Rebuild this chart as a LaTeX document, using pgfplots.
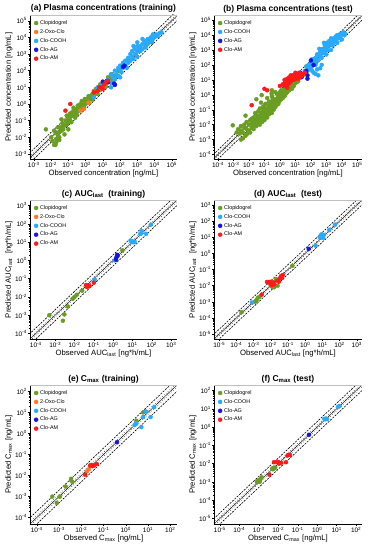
\documentclass[border=0pt]{standalone}
\usepackage{fontspec}
\setmainfont{Liberation Sans}
\usepackage{pgfplots}
\pgfplotsset{compat=1.18}
\definecolor{cgreen}{RGB}{106,158,34}
\definecolor{corange}{RGB}{255,122,40}
\definecolor{clblue}{RGB}{40,170,255}
\definecolor{cblue}{RGB}{20,20,230}
\definecolor{cred}{RGB}{255,25,25}
\pgfplotsset{log number format basis/.code 2 args={#1\textsuperscript{\pgfmathprintnumber[assume math mode=true]{#2}}}}
\pgfplotsset{legend image code/.code={\draw[mark repeat=2,mark phase=2,#1] plot coordinates {(0pt,0pt) (2.5pt,0pt) (5pt,0pt)};}}
\pgfplotsset{every axis title/.style={at={(0.5,1)}, anchor=south, yshift=0pt, inner sep=2pt, font=\bfseries\fontsize{8.5}{9}\selectfont}}
\pgfplotsset{
  every axis/.append style={
    xmode=log, ymode=log, scale only axis, width=147pt,
    axis x line*=bottom, axis y line*=left,
    axis line style={line width=0.5pt, -},
    tick align=outside, major tick length=2pt, minor tick length=1.2pt,
    tick style={line width=0.4pt, black},
    ticklabel style={font=\fontsize{6.5}{7}\selectfont, inner sep=1pt},
    label style={font=\fontsize{7.7}{8}\selectfont},
    xlabel style={yshift=3pt}, ylabel style={yshift=-2pt},
    legend style={at={(0.02,0.985)}, anchor=north west, draw=none, fill=none,
      font=\fontsize{5.4}{6}\selectfont, row sep=-0.5pt, inner sep=1pt},
    legend cell align=left,
  },
}
\newcommand{\reflines}{%
  \addplot[forget plot, black, line width=0.45pt] coordinates {(1e-7,1e-7) (1e7,1e7)};
  \addplot[forget plot, black, dotted, line width=0.5pt] coordinates {(1e-7,1.25e-7) (1e7,1.25e7)};
  \addplot[forget plot, black, dotted, line width=0.5pt] coordinates {(1e-7,0.8e-7) (1e7,0.8e7)};
  \addplot[forget plot, black, dash pattern=on 2pt off 1.2pt, line width=0.6pt] coordinates {(1e-7,2e-7) (1e7,2e7)};
  \addplot[forget plot, black, dash pattern=on 2pt off 1.2pt, line width=0.6pt] coordinates {(1e-7,0.5e-7) (1e7,0.5e7)};
}
\newcommand{\grayframe}{\draw[gray!50, line width=0.7pt] (rel axis cs:0,1) -- (rel axis cs:1,1) -- (rel axis cs:1,0);}
\begin{document}
\begin{tikzpicture}
\useasboundingbox (0,0) rectangle (372pt,550pt);
% (a)
\begin{axis}[at={(30pt,391pt)}, anchor=south west, height=144pt,
  xmin=6e-4, xmax=2e5, ymin=5e-4, ymax=2.2e5,
  xtick={1e-3,1e-2,1e-1,1,1e1,1e2,1e3,1e4,1e5}, ytick={1e-3,1e-2,1e-1,1,1e1,1e2,1e3,1e4,1e5},
  title={(a) Plasma concentrations (training)},
  xlabel={Observed concentration [ng/mL]}, ylabel={Predicted concentration [ng/mL]}]
\reflines
\addplot[only marks, mark=*, mark size=2pt, cgreen] coordinates {(5e-3,3e-2) (1.5e-2,3.5e-3) (1.8e-2,3.5e-3) (2e-2,8e-3) (2.5e-2,1.2e-2) (2e-2,1.8e-2) (3e-2,2e-2) (3e-2,1e-2) (4e-2,2.5e-2) (3.5e-2,4e-2) (5e-2,3e-2) (5e-2,6e-2) (6e-2,5e-2) (7e-2,1e-1) (8e-2,6e-2) (1e-1,1.2e-1) (1e-1,8e-2) (1.2e-1,1.5e-1) (1.3e-1,1e-1) (1.5e-1,2e-1) (1.5e-1,3e-1) (2e-1,2e-1) (2e-1,4e-1) (2.5e-1,3e-1) (3e-1,5e-1) (3e-1,2.5e-1) (4e-1,6e-1) (4e-1,4e-1) (5e-1,8e-1) (5e-1,1) (6e-1,5e-1) (7e-1,1) (8e-1,7e-1) (1,1.5) (1,1) (1.2,2) (1.5,1.2) (2,3) (2,2) (2.5,4) (3,3) (3,6) (4,5) (5,8) (5,4) (6,10) (7,7) (8,12) (1e1,15) (1.2e1,10) (1.5e1,20) (2e1,25) (2e1,40) (3e1,30) (4e1,50) (3e1,60) (5e1,40) (8e1,1e2) (1e2,1.2e2) (1.5e2,2e2) (3e2,5e2) (8e2,1e3) (1.5e3,2e3) (3e3,3e3) (5e3,7e3) (7e3,5e3) (1e-1,3e-2) (6e-2,1.5e-2) (2e-2,5e-3) (3e-2,7e-3) (1e-2,1e-2) (1.5e-2,2.5e-2) (4e-2,1.2e-1) (8e-2,2e-1) (2e-1,6e-1) (0.6,1.5) (1.5,3) (0.15,0.08) (1.2e-2,6e-3) (2.5e-2,4e-2) (4.5e-2,7e-2) (0.12,0.25) (0.25,0.15) (0.35,0.8) (0.9,2) (2.5,1.8) (4,8) (7,15) (1.5e1,12) (2.5e1,35)};
\addlegendentry{Clopidogrel}
\addplot[only marks, mark=*, mark size=2pt, corange] coordinates {(0.5,0.4) (0.8,0.5) (1.5,1.2)};
\addlegendentry{2-Oxo-Clo}
\addplot[only marks, mark=*, mark size=2pt, clblue] coordinates {(2e1,3e1) (3e1,2e1) (3e1,6e1) (4e1,4e1) (5e1,1e2) (5e1,3e1) (6e1,6e1) (8e1,1.5e2) (8e1,5e1) (1e2,1e2) (1e2,2e2) (1.2e2,8e1) (1.5e2,3e2) (1.5e2,1.5e2) (2e2,2e2) (2e2,4e2) (2.5e2,1.5e2) (3e2,6e2) (3e2,3e2) (4e2,1e3) (4e2,4e2) (5e2,7e2) (5e2,1.5e3) (6e2,5e2) (7e2,2e3) (8e2,1e3) (1e3,1.5e3) (1e3,3e3) (1e3,7e2) (1.2e3,2e3) (1.5e3,3e3) (1.5e3,1.5e3) (2e3,4e3) (2e3,2e3) (2.5e3,5e3) (3e3,2.5e3) (3e3,6e3) (4e3,4e3) (4e3,8e3) (5e3,5e3) (6e3,1e4) (7e3,6e3) (8e3,8e3) (1e4,1e4) (1.2e4,1.5e4) (1.5e4,1.2e4) (2e4,1.8e4) (2.5e4,2e4) (2e3,8e3) (1e3,5e3) (3e1,1e1) (5e1,1.5e1) (1e2,4e1) (3,2.5) (5,10) (8,12) (6e2,3e3) (8e3,1.5e4)};
\addlegendentry{Clo-COOH}
\addplot[only marks, mark=*, mark size=2pt, cblue] coordinates {(5e1,14) (4.5e1,17) (1.5e2,1.7e2) (1.8e2,2e2) (1e1,2.2e1) (2e1,20)};
\addlegendentry{Clo-AG}
\addplot[only marks, mark=*, mark size=2pt, cred] coordinates {(0.13,1) (0.068,0.4) (5,6) (8,10) (12,15) (15,20) (10,8) (6,10) (20,25) (3,5)};
\addlegendentry{Clo-AM}
\grayframe
\end{axis}
% (b)
\begin{axis}[at={(214pt,391pt)}, anchor=south west, height=144pt, width=148pt,
  xmin=5.5e-5, xmax=2e5, ymin=5e-5, ymax=2.2e5,
  xtick={1e-4,1e-3,1e-2,1e-1,1,1e1,1e2,1e3,1e4,1e5}, ytick={1e-4,1e-3,1e-2,1e-1,1,1e1,1e2,1e3,1e4,1e5},
  title={(b) Plasma concentrations (test)},
  xlabel={Observed concentration [ng/mL]}, ylabel={Predicted concentration [ng/mL]}]
\reflines
\addplot[only marks, mark=*, mark size=2pt, cgreen] coordinates {(9e-4,9e-3) (1.6e-3,3e-3) (2e-3,5e-3) (3e-3,4e-3) (3e-3,8e-3) (4e-3,3e-3) (5e-3,6e-3) (5e-3,1e-2) (1e-2,4e-3) (1e-2,1e-2) (1.2e-2,2e-2) (1.5e-2,6e-3) (1.5e-2,1.2e-2) (2e-2,5e-3) (2e-2,1.5e-2) (2e-2,3e-2) (2.5e-2,1e-2) (3e-2,8e-3) (3e-2,2e-2) (3e-2,5e-2) (4e-2,1.5e-2) (4e-2,3e-2) (5e-2,1e-2) (5e-2,2e-2) (5e-2,4e-2) (6e-2,3e-2) (6e-2,6e-2) (7e-2,1.5e-2) (7e-2,4e-2) (8e-2,2.5e-2) (8e-2,8e-2) (1e-1,3e-2) (1e-1,5e-2) (1e-1,1e-1) (1e-1,2e-2) (1.2e-1,4e-2) (1.2e-1,7e-2) (1.5e-1,3e-2) (1.5e-1,6e-2) (1.5e-1,1.2e-1) (2e-1,5e-2) (2e-1,1e-1) (2e-1,2e-1) (2.5e-1,8e-2) (2.5e-1,1.5e-1) (3e-1,6e-2) (3e-1,1.2e-1) (3e-1,3e-1) (4e-1,1e-1) (4e-1,2e-1) (5e-1,1.5e-1) (5e-1,3e-1) (5e-1,5e-1) (6e-1,2e-1) (7e-1,3e-1) (7e-1,6e-1) (8e-1,2.5e-1) (1,4e-1) (1,8e-1) (1,1.5) (1.2,5e-1) (1.5,6e-1) (1.5,1) (2,8e-1) (2,1.5) (2,2.5) (2.5,1.2) (3,1.5) (3,2.5) (4,2) (4,4) (5,3) (6,2.5) (6,5) (8,4) (1e1,6) (1e1,10) (1.5e1,8) (2e1,15) (3e1,20) (5e1,40) (8e1,6e1) (1.3e2,1.7e2) (2e2,1.5e2) (1e2,1e2) (3e-2,5e-1) (0.066,0.95) (0.29,1.2) (0.3,2) (0.5,1.5) (0.15,0.6) (0.06,0.3) (6e-3,4e-2) (2.9e-2,4.4e-2) (1.5e-2,2.5e-2) (7e-3,1.5e-2) (2.5e-3,2.5e-3) (0.04,0.08) (0.08,0.15) (0.2,0.35) (0.35,0.5) (0.7,1) (1.2,2) (0.3,0.8) (0.12,0.25) (3e-3,1e-3) (4e-3,1.2e-3) (6e-3,1.8e-3) (8e-3,2.5e-3) (1.2e-2,3e-3) (7e-3,5e-3) (1.8e-2,8e-3) (3.5e-2,1.2e-2) (4.5e-2,2.2e-2) (9e-2,4e-2) (0.18,8e-2) (0.35,0.2) (0.6,0.35) (0.9,0.5) (1.8,1.1) (3.5,2) (7,3.5) (1.2e1,7) (0.025,0.06) (0.05,0.12) (0.1,0.2)};
\addlegendentry{Clopidogrel}
\addplot[only marks, mark=*, mark size=2pt, clblue] coordinates {(4e1,4e1) (5e1,8e1) (6e1,4e1) (7e1,1e2) (8e1,6e1) (1e2,1.5e2) (1e2,60) (1.2e2,2.5e2) (1.5e2,2e2) (1.5e2,3e1) (2e2,1e2) (2e2,3e2) (2e2,25) (2.5e2,5e2) (3e2,5e2) (3e2,2e2) (3e2,20) (4e2,60) (4e2,8e2) (5e2,3e2) (5e2,8e2) (5e2,1e2) (6e2,1.2e3) (7e2,7e2) (8e2,2e3) (1e3,1.5e3) (1e3,5e2) (1e3,3e3) (1.2e3,1e3) (1.5e3,2.5e3) (1.5e3,4e3) (2e3,1e3) (2e3,3e3) (2.5e3,5e3) (3e3,3e3) (3e3,6e3) (4e3,4e3) (4e3,8e3) (5e3,3e3) (5e3,1e4) (6e3,6e3) (8e3,8e3) (8e3,1.2e4) (1e4,5e3) (1e4,1e4) (1.2e4,1.5e4) (1.5e4,1e4) (1.5e4,1.3e4) (7e2,3e3) (2e3,6e3) (3.5e2,1.2e3) (1.2e2,40) (2.5e2,50) (1.8e2,1.2e2) (4e2,4e2) (6e2,6e2) (9e2,9e2) (1.3e3,2e3) (2.5e3,2e3) (3.5e3,4.5e3) (6e3,9e3)};
\addlegendentry{Clo-COOH}
\addplot[only marks, mark=*, mark size=2pt, cblue] coordinates {(20,30) (25,15) (25,20) (50,40) (60,20) (60,12) (1e2,2e2) (1.5e2,1e2)};
\addlegendentry{Clo-AG}
\addplot[only marks, mark=*, mark size=2pt, cred] coordinates {(2,4) (2,6) (3,5) (3,8) (4,6) (4,10) (5,8) (5,12) (6,10) (6,15) (8,10) (8,18) (10,12) (10,20) (12,15) (12,25) (15,20) (15,12) (20,15) (20,25) (25,18) (3,3) (1.5,5) (1,3.9) (0.015,0.2) (0.1,2.5) (0.15,2) (7,20) (4,15) (9,14) (18,30) (2,10) (3,12) (5,20) (10,30) (30,25) (40,30)};
\addlegendentry{Clo-AM}
\grayframe
\end{axis}
% (c)
\begin{axis}[at={(30pt,211pt)}, anchor=south west, height=139pt,
  xmin=5e-5, xmax=2e3, ymin=5e-5, ymax=2e3,
  xtick={1e-4,1e-3,1e-2,1e-1,1,1e1,1e2,1e3}, ytick={1e-4,1e-3,1e-2,1e-1,1,1e1,1e2,1e3},
  title={(c) AUC\textsubscript{last}\ \ (training)},
  xlabel={Observed AUC\textsubscript{last} [ng*h/mL]}, ylabel={Predicted AUC\textsubscript{last}\ \ [ng*h/mL]}]
\reflines
\addplot[only marks, mark=*, mark size=2pt, cgreen] coordinates {(5e-4,1e-3) (2.5e-3,5e-4) (3e-3,1.1e-3) (4.5e-3,3e-3) (8e-3,8e-3) (1e-2,1e-2) (1.3e-2,1.3e-2) (2.5e-2,2.2e-2) (3,3.5)};
\addlegendentry{Clopidogrel}
\addplot[only marks, mark=*, mark size=2pt, corange] coordinates {(4.2e-2,4.2e-2)};
\addlegendentry{2-Oxo-Clo}
\addplot[only marks, mark=*, mark size=2pt, clblue] coordinates {(1.1e-1,9e-2) (1.2,1) (8,12) (9,10) (10,11) (11,10) (12,10) (13,10) (25,28) (30,40) (28,30) (50,28) (90,90)};
\addlegendentry{Clo-COOH}
\addplot[only marks, mark=*, mark size=2pt, cblue] coordinates {(1.5,1.5) (1.6,2) (1.7,1.8) (1.4,1.1)};
\addlegendentry{Clo-AG}
\addplot[only marks, mark=*, mark size=2pt, cred] coordinates {(4e-2,4.5e-2) (5e-2,4e-2) (6e-2,4e-2) (4.5e-2,3.5e-2) (1e-1,6e-2)};
\addlegendentry{Clo-AM}
\grayframe
\end{axis}
% (d)
\begin{axis}[at={(214pt,211pt)}, anchor=south west, height=139pt, width=148pt,
  xmin=5e-6, xmax=2e3, ymin=5e-6, ymax=2e3,
  xtick={1e-5,1e-4,1e-3,1e-2,1e-1,1,1e1,1e2,1e3}, ytick={1e-5,1e-4,1e-3,1e-2,1e-1,1,1e1,1e2,1e3},
  title={(d) AUC\textsubscript{last}\ \ (test)},
  xlabel={Observed AUC\textsubscript{last} [ng*h/mL]}, ylabel={Predicted AUC\textsubscript{last}\ \ [ng*h/mL]}]
\reflines
\addplot[only marks, mark=*, mark size=2pt, cgreen] coordinates {(2e-4,2.3e-4) (1.2e-3,1e-3) (1.5e-3,1.3e-3) (1.8e-3,1.8e-3) (2.2e-3,2e-3) (1.4e-3,1.1e-3) (1e-2,1e-2) (1.3e-2,8e-3) (1.6e-2,8e-3) (1.2e-2,9e-3) (2e-2,2.5e-2) (1.8e-1,1.7e-1) (2.5e-2,1e-2)};
\addlegendentry{Clopidogrel}
\addplot[only marks, mark=*, mark size=2pt, clblue] coordinates {(8e-4,9e-4) (4,3) (7,10) (8,13) (9,15) (10,12) (12,14) (11,9) (25,28) (55,60)};
\addlegendentry{Clo-COOH}
\addplot[only marks, mark=*, mark size=2pt, cblue] coordinates {(1.6,1.9)};
\addlegendentry{Clo-AG}
\addplot[only marks, mark=*, mark size=2pt, cred] coordinates {(6e-3,1.7e-2) (8e-3,1.7e-2) (9e-3,1.4e-2) (1e-2,1.7e-2) (1.2e-2,1.3e-2) (1.4e-2,1.6e-2) (1.6e-2,1.2e-2) (1.1e-2,1.1e-2) (3e-2,1.8e-2) (3.5e-2,3e-2) (4e-2,4e-2) (5e-2,4.5e-2) (4.5e-2,3e-2) (3e-3,2.8e-3) (2.5e-2,2e-2)};
\addlegendentry{Clo-AM}
\grayframe
\end{axis}
% (e)
\begin{axis}[at={(30pt,26pt)}, anchor=south west, height=139pt,
  xmin=5e-5, xmax=2e2, ymin=5e-5, ymax=2e2,
  xtick={1e-4,1e-3,1e-2,1e-1,1,1e1,1e2}, ytick={1e-4,1e-3,1e-2,1e-1,1,1e1,1e2},
  title={(e) C\textsubscript{max} (training)},
  xlabel={Observed C\textsubscript{max} [ng/mL]}, ylabel={Predicted C\textsubscript{max} [ng/mL]}]
\reflines
\addplot[only marks, mark=*, mark size=2pt, cgreen] coordinates {(5e-4,1e-3) (8e-4,5e-4) (1.1e-3,1e-3) (2e-3,3e-3) (3.5e-3,6e-3) (3.5e-3,7e-3) (4e-3,5e-3) (3,4) (6,10)};
\addlegendentry{Clopidogrel}
\addplot[only marks, mark=*, mark size=2pt, corange] coordinates {(2.2e-2,2e-2) (1.8e-2,1.6e-2)};
\addlegendentry{2-Oxo-Clo}
\addplot[only marks, mark=*, mark size=2pt, clblue] coordinates {(2.5,2.5) (3,3) (2.8,2.8) (5,2) (6,6) (8,11) (13,6) (19,18)};
\addlegendentry{Clo-COOH}
\addplot[only marks, mark=*, mark size=2pt, cblue] coordinates {(4e-1,3.8e-1)};
\addlegendentry{Clo-AG}
\addplot[only marks, mark=*, mark size=2pt, cred] coordinates {(1.5e-2,1.1e-2) (2.5e-2,3e-2) (3.2e-2,2.8e-2) (3.8e-2,3e-2) (5e-2,3.5e-2) (2.8e-2,3.2e-2)};
\addlegendentry{Clo-AM}
\grayframe
\end{axis}
% (f)
\begin{axis}[at={(214pt,26pt)}, anchor=south west, height=139pt, width=148pt,
  xmin=5e-6, xmax=2e2, ymin=5e-6, ymax=2e2,
  xtick={1e-5,1e-4,1e-3,1e-2,1e-1,1,1e1,1e2}, ytick={1e-5,1e-4,1e-3,1e-2,1e-1,1,1e1,1e2},
  title={(f) C\textsubscript{max} (test)},
  xlabel={Observed C\textsubscript{max} [ng/mL]}, ylabel={Predicted C\textsubscript{max} [ng/mL]}]
\reflines
\addplot[only marks, mark=*, mark size=2pt, cgreen] coordinates {(8e-4,1e-3) (9e-4,1.2e-3) (1e-3,1.1e-3) (1.2e-3,1.4e-3) (1.4e-3,1.8e-3) (1.1e-3,1e-3) (5e-3,5.5e-3) (6e-3,6e-3) (7e-3,6e-3) (5.5e-3,5e-3)};
\addlegendentry{Clopidogrel}
\addplot[only marks, mark=*, mark size=2pt, clblue] coordinates {(2.3,2.8) (2.8,2.9) (3.2,2.7) (12,13) (14,14)};
\addlegendentry{Clo-COOH}
\addplot[only marks, mark=*, mark size=2pt, cblue] coordinates {(3.8e-1,3.8e-1)};
\addlegendentry{Clo-AG}
\addplot[only marks, mark=*, mark size=2pt, cred] coordinates {(3.5e-3,2.5e-3) (6e-3,1.2e-2) (9e-3,1.2e-2) (1.1e-2,1e-2) (1.4e-2,1.1e-2) (2.5e-2,1.2e-2) (3e-2,2.8e-2) (3.5e-2,3e-2) (4e-2,3e-2) (1e-2,1.2e-2)};
\addlegendentry{Clo-AM}
\grayframe
\end{axis}
\end{tikzpicture}
\end{document}
